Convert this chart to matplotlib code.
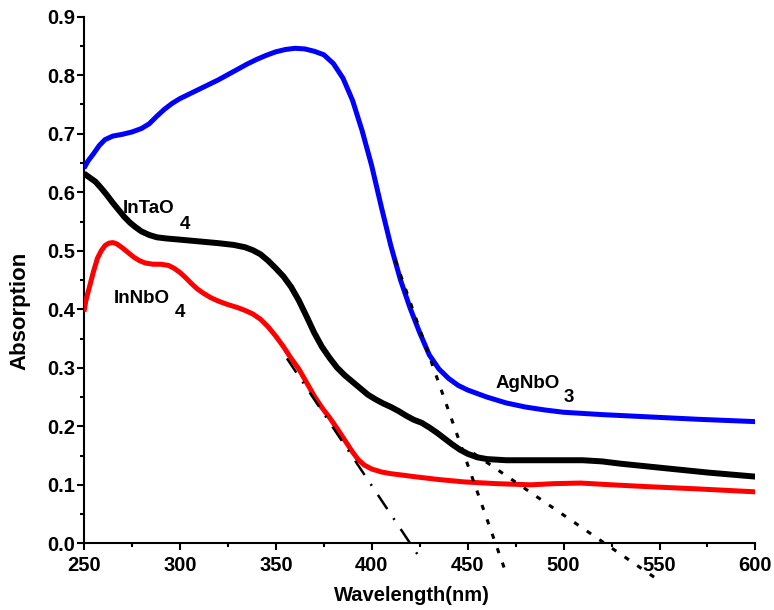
import matplotlib
matplotlib.use("Agg")
import matplotlib.pyplot as plt
from matplotlib.ticker import MultipleLocator, FormatStrFormatter

plt.rcParams['font.family'] = ['Liberation Sans', 'DejaVu Sans']
plt.rcParams['font.weight'] = 'bold'

# ---- data ----
ag_x = [250, 252, 255, 258, 261, 265, 270, 275, 280, 284, 288, 292, 296, 300, 305, 310, 315,
        320, 325, 330, 335, 340, 345, 350, 355, 360, 365, 370, 375, 380, 385, 390, 395, 400,
        405, 410, 415, 420, 425, 430, 435, 440, 445, 450, 460, 470, 480, 490, 500, 520,
        545, 570, 600]
ag_y = [0.641, 0.653, 0.666, 0.680, 0.690, 0.696, 0.699, 0.703, 0.709, 0.717, 0.730, 0.742,
        0.752, 0.760, 0.768, 0.776, 0.784, 0.792, 0.801, 0.810, 0.819, 0.827, 0.834, 0.840,
        0.844, 0.846, 0.845, 0.841, 0.835, 0.820, 0.795, 0.757, 0.705, 0.645, 0.575, 0.508,
        0.450, 0.402, 0.360, 0.322, 0.298, 0.282, 0.270, 0.262, 0.250, 0.240, 0.233, 0.228,
        0.224, 0.220, 0.216, 0.212, 0.208]

ta_x = [250, 253, 256, 259, 262, 265, 268, 271, 274, 277, 280, 284, 288, 293, 300, 310, 320,
        328, 334, 338, 342, 346, 350, 354, 358, 362, 366, 370, 374, 378, 382, 386, 390, 394,
        398, 402, 406, 410, 414, 418, 422, 426, 430, 434, 438, 442, 446, 450, 455, 460, 470,
        490, 510, 520, 530, 545, 560, 575, 600]
ta_y = [0.632, 0.625, 0.618, 0.607, 0.595, 0.582, 0.570, 0.558, 0.548, 0.540, 0.533, 0.527,
        0.523, 0.521, 0.519, 0.516, 0.513, 0.510, 0.506, 0.501, 0.494, 0.483, 0.470, 0.456,
        0.438, 0.415, 0.388, 0.360, 0.336, 0.317, 0.300, 0.287, 0.276, 0.265, 0.254, 0.246,
        0.239, 0.233, 0.226, 0.218, 0.211, 0.206, 0.198, 0.189, 0.179, 0.169, 0.160, 0.153,
        0.147, 0.144, 0.142, 0.142, 0.142, 0.140, 0.136, 0.131, 0.126, 0.121, 0.114]

nb_x = [250, 251, 253, 255, 257, 259, 261, 263, 265, 267, 270, 273, 276, 279, 282, 286, 290,
        294, 297, 300, 303, 306, 309, 312, 316, 320, 325, 330, 334, 338, 342, 346, 350, 354,
        358, 362, 366, 370, 374, 378, 382, 386, 390, 393, 396, 400, 405, 410, 415, 422, 435,
        448, 465, 483, 495, 509, 525, 543, 570, 600]
nb_y = [0.396, 0.415, 0.440, 0.465, 0.487, 0.500, 0.509, 0.513, 0.514, 0.512, 0.505, 0.497,
        0.489, 0.483, 0.479, 0.477, 0.477, 0.475, 0.470, 0.463, 0.454, 0.444, 0.435, 0.428,
        0.420, 0.414, 0.408, 0.403, 0.398, 0.392, 0.383, 0.370, 0.354, 0.336, 0.316, 0.298,
        0.275, 0.252, 0.232, 0.215, 0.196, 0.176, 0.156, 0.143, 0.134, 0.127, 0.122, 0.119,
        0.117, 0.114, 0.109, 0.105, 0.102, 0.100, 0.102, 0.103, 0.100, 0.097, 0.093, 0.088]

tan_nb_x = [355.8, 424.9]
tan_nb_y = [0.316, -0.024]
tan_ag_x = [412.3, 469.7]
tan_ag_y = [0.484, -0.048]
tan_ta_x = [453.0, 549.5]
tan_ta_y = [0.154, -0.063]

xticks = [250, 300, 350, 400, 450, 500, 550, 600]
yticks = [0.0, 0.1, 0.2, 0.3, 0.4, 0.5, 0.6, 0.7, 0.8, 0.9]

fig = plt.figure(figsize=(7.74, 6.10), dpi=100)
ax = fig.add_axes([0.1085, 0.1093, 0.8675, 0.8633])

kw = dict(solid_capstyle='butt', solid_joinstyle='round', zorder=3)
ax.plot(ag_x, ag_y, color='#0000ff', lw=3.6, **kw)
ax.plot(ta_x, ta_y, color='black', lw=4.3, **kw)
ax.plot(nb_x, nb_y, color='#ff0000', lw=3.6, **kw)

ax.plot(tan_nb_x, tan_nb_y, color='black', lw=1.8, dashes=(6.8, 4.4, 0.8, 4.4),
        clip_on=False, zorder=4)
ax.plot(tan_ag_x, tan_ag_y, color='black', lw=2.2, dashes=(1.7, 3.3),
        clip_on=False, zorder=4)
ax.plot(tan_ta_x, tan_ta_y, color='black', lw=2.2, dashes=(1.7, 3.3),
        clip_on=False, zorder=4)

ax.set_xlim(250, 600)
ax.set_ylim(0, 0.9)
ax.set_xticks(xticks)
ax.set_yticks(yticks)
ax.xaxis.set_minor_locator(MultipleLocator(25))
ax.yaxis.set_minor_locator(MultipleLocator(0.05))
ax.yaxis.set_major_formatter(FormatStrFormatter('%.1f'))

for s in ['top', 'right']:
    ax.spines[s].set_visible(False)
for s in ['left', 'bottom']:
    ax.spines[s].set_linewidth(1.5)

ax.tick_params(axis='both', which='major', direction='out', length=5, width=1.5,
               labelsize=14.5)
ax.tick_params(axis='both', which='minor', direction='out', length=3, width=1.5)
ax.tick_params(axis='y', which='major', pad=1.5)
ax.tick_params(axis='x', which='major', pad=4)
for lab in ax.get_xticklabels() + ax.get_yticklabels():
    lab.set_fontweight('bold')

ax.text(-0.0953, 0.441, 'Absorption', transform=ax.transAxes, rotation=90,
        ha='center', va='center', fontsize=16, fontweight='bold')
ax.text(0.488, -0.100, 'Wavelength(nm)', transform=ax.transAxes,
        ha='center', va='center', fontsize=14.5, fontweight='bold')

# curve labels (main text + lowered subscript)
fs = 13.5
ax.text(270.3, 0.565, 'InTaO', fontsize=fs, fontweight='bold', ha='left', va='baseline')
ax.text(299.9, 0.538, '4', fontsize=fs, fontweight='bold', ha='left', va='baseline')
ax.text(265.7, 0.410, 'InNbO', fontsize=fs, fontweight='bold', ha='left', va='baseline')
ax.text(297.3, 0.387, '4', fontsize=fs, fontweight='bold', ha='left', va='baseline')
ax.text(464.4, 0.265, 'AgNbO', fontsize=fs, fontweight='bold', ha='left', va='baseline')
ax.text(500.1, 0.242, '3', fontsize=fs, fontweight='bold', ha='left', va='baseline')

fig.savefig('out.png', dpi=100)
